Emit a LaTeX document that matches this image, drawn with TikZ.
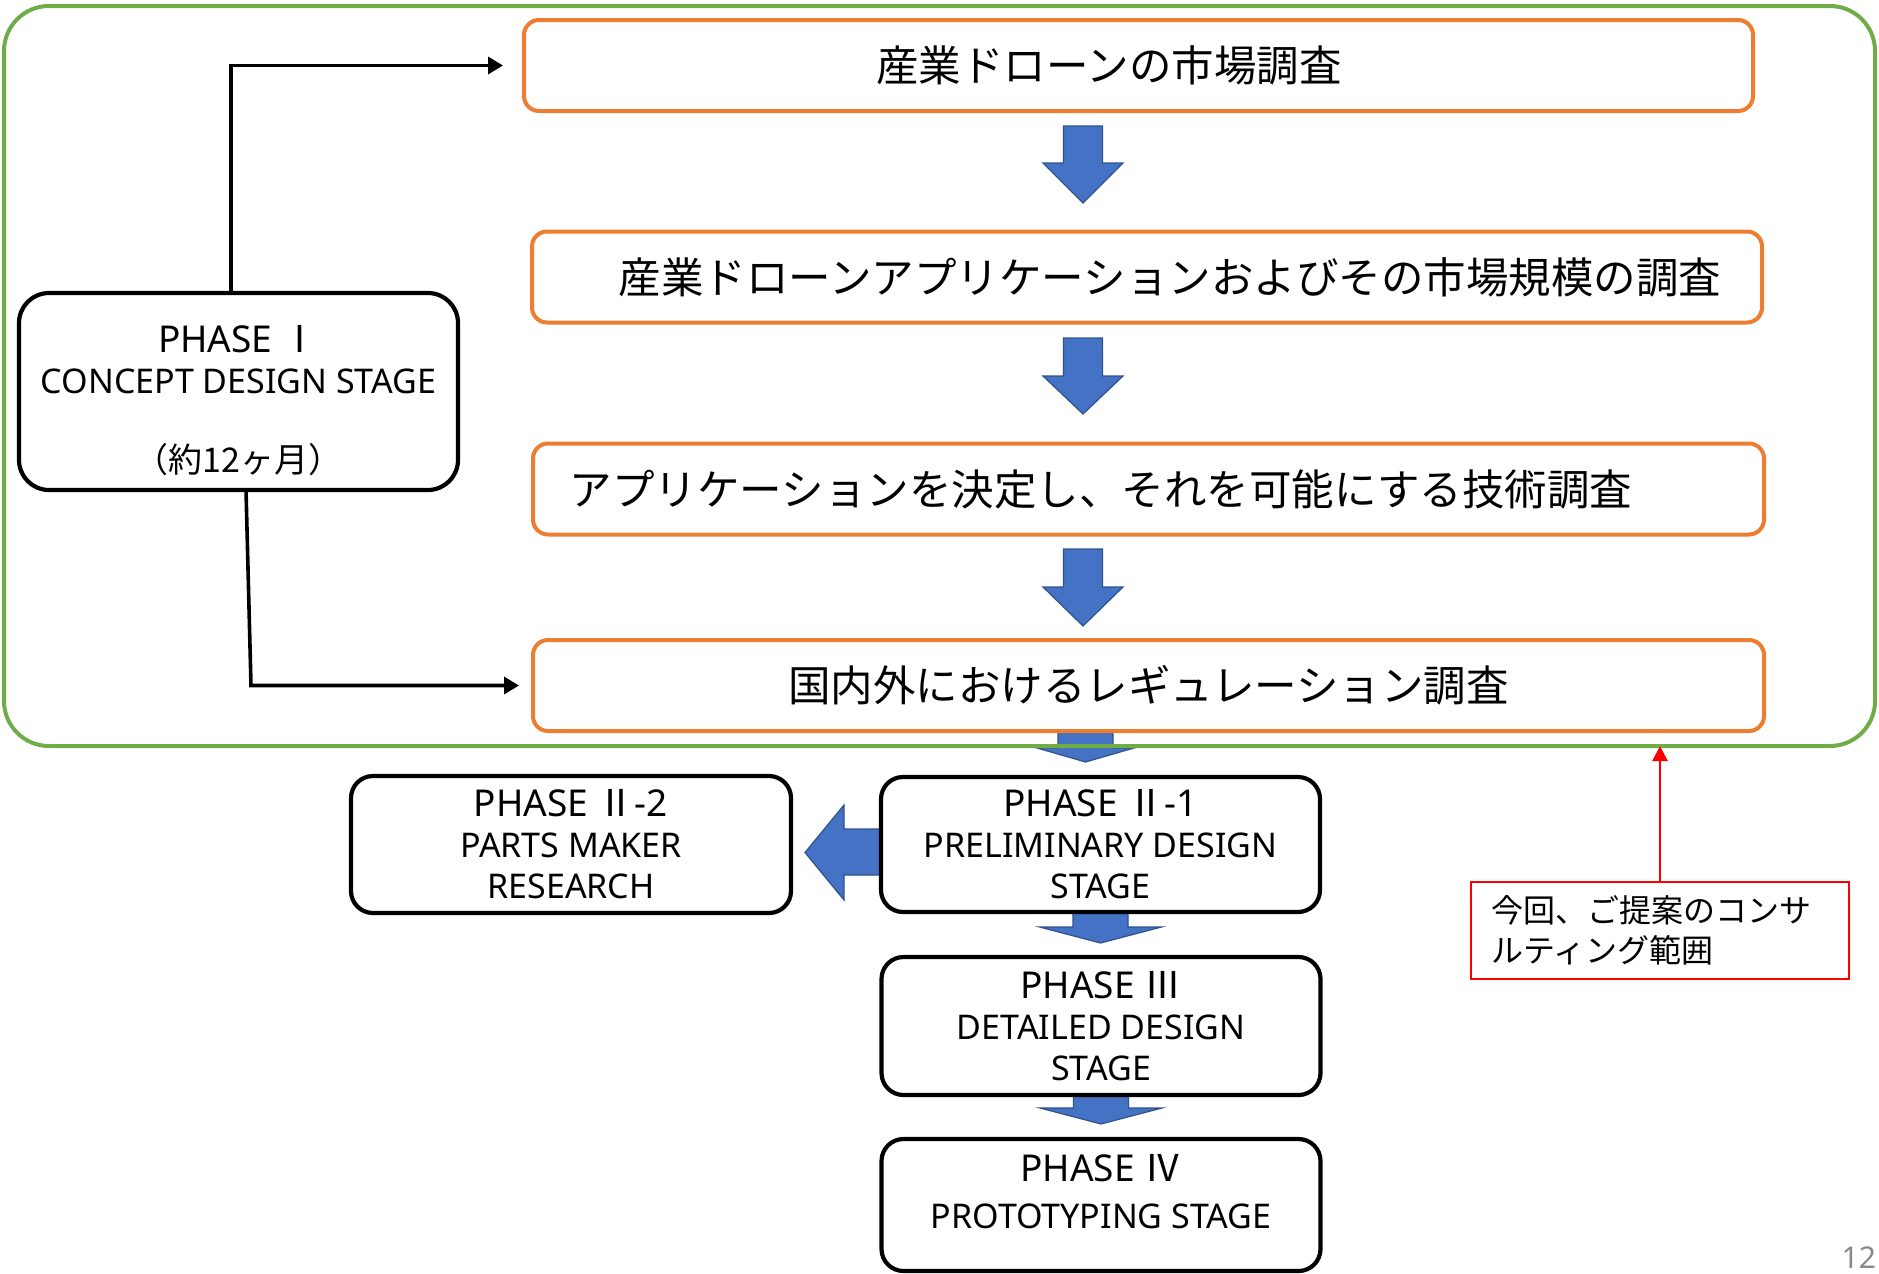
\documentclass[tikz,border=0pt]{standalone}
\usepackage{fontspec}
\setmainfont{Noto Sans}
\newfontfamily\cjk{Noto Sans CJK JP}
\usetikzlibrary{arrows.meta}
\definecolor{orng}{HTML}{ED7D31}
\definecolor{grn}{HTML}{70AD47}
\definecolor{blu}{HTML}{4472C4}
\definecolor{bluedge}{HTML}{2F528F}
\definecolor{pagegray}{HTML}{898989}
\newcommand\phead[1]{{\fontsize{37}{41}\selectfont #1}}
% down block arrow: cx, ytop, shaft half width, head half width, y shoulder, y tip
\newcommand\blockdown[6]{%
  \filldraw[blockarrow] ({#1-#3},#2) -- ({#1+#3},#2) -- ({#1+#3},#5) -- ({#1+#4},#5)
    -- (#1,#6) -- ({#1-#4},#5) -- ({#1-#3},#5) -- cycle;}
\begin{document}
\begin{tikzpicture}[x=1pt,y=-1pt,
  every node/.style={outer sep=0pt},
  scopebox/.style={draw=grn,line width=4pt,rounded corners=45pt,inner sep=0pt},
  taskbox/.style={draw=orng,fill=white,line width=4pt,rounded corners=15pt,
    minimum width=1231pt,minimum height=91pt,inner sep=0pt,
    font=\cjk\fontsize{42.5}{50}\selectfont},
  phasebox/.style={draw=black,fill=white,line width=4.2pt,rounded corners=22pt,
    minimum width=439pt,inner sep=0pt,align=center,font=\fontsize{34}{41}\selectfont},
  blockarrow/.style={fill=blu,draw=bluedge,line width=1.2pt,line join=miter},
  conn/.style={draw=black,line width=3.6pt,-{Triangle[width=17pt,length=15pt]}},
  notebox/.style={draw=red,line width=2.6pt,minimum width=378pt,minimum height=97pt,
    inner xsep=20pt,inner ysep=0pt,text width=338pt,align=left,
    font=\cjk\fontsize{32}{40}\selectfont},
  notearrow/.style={draw=red,line width=2.6pt,-{Triangle[width=15pt,length=15pt]}}
]
\useasboundingbox (0,0) rectangle (1879,1274);

% block arrows
\blockdown{1083}{126}{19.5}{40}{163}{203}
\blockdown{1083}{338}{19.5}{40}{376}{414}
\blockdown{1083}{549}{19.5}{40}{587}{626}
\blockdown{1085.5}{731}{27.5}{48.5}{748}{762}
\blockdown{1100.5}{912}{27.5}{61}{927}{943}
\blockdown{1101}{1093}{27.5}{61}{1108}{1124}
\filldraw[blockarrow] (881,829) -- (844,829) -- (844,805) -- (805,852.5)
  -- (844,900) -- (844,875) -- (881,875) -- cycle;

% green scope
\node[scopebox,minimum width=1871pt,minimum height=740pt] (scope) at (939.5,376) {};

% orange task boxes
\node[taskbox,minimum width=1229pt] (b1) at (1138.5,65.5) {産業ドローンの市場調査\hspace*{59pt}};
\node[taskbox,minimum width=1230pt] (b2) at (1147,277) {\hspace*{46pt}産業ドローンアプリケーションおよびその市場規模の調査};
\node[taskbox] (b3) at (1148.5,489) {アプリケーションを決定し、それを可能にする技術調査\hspace*{95pt}};
\node[taskbox] (b4) at (1148.5,685.5) {国内外におけるレギュレーション調査};

% phase boxes
\node[phasebox,minimum height=197pt,rounded corners=30pt] (p1) at (238.5,391.5)
  {\rule{0pt}{46pt}\phead{PHASE\ {\cjk Ⅰ}}\\CONCEPT DESIGN STAGE\\[38pt]{\cjk （約12ヶ月）}};
\node[phasebox,minimum width=440pt,minimum height=137pt] (p22) at (571,844.5)
  {\phead{PHASE\ {\cjk Ⅱ}-2}\\PARTS MAKER\\RESEARCH};
\node[phasebox,minimum height=135pt] (p21) at (1100.5,844.5)
  {\phead{PHASE\ {\cjk Ⅱ}-1}\\PRELIMINARY DESIGN\\STAGE};
\node[phasebox,minimum height=138pt] (p3) at (1101,1026)
  {\phead{PHASE\ {\cjk Ⅲ}}\\DETAILED DESIGN\\STAGE};
\node[phasebox,minimum height=132pt] (p4) at (1101,1205)
  {\phead{PHASE\ {\cjk Ⅳ}}\\[6pt]PROTOTYPING STAGE\\[-14pt]\mbox{}};

% connectors from phase I
\draw[conn] ([xshift=-7.5pt]p1.north) |- ([xshift=-21pt]b1.west);
\draw[conn] ([xshift=7.5pt]p1.south) -- ([xshift=-282pt]b4.west) -- ([xshift=-14pt]b4.west);

% note
\node[notebox] (note) at (1660,930.5) {今回、ご提案のコンサ\\ルティング範囲};
\draw[notearrow] (note.north) -- (note.north |- scope.south);

% page number
\node[anchor=base east,text=pagegray,font=\fontsize{30}{36}\selectfont,inner sep=0pt] (pg) at (1876,1268) {12};
\end{tikzpicture}
\end{document}
